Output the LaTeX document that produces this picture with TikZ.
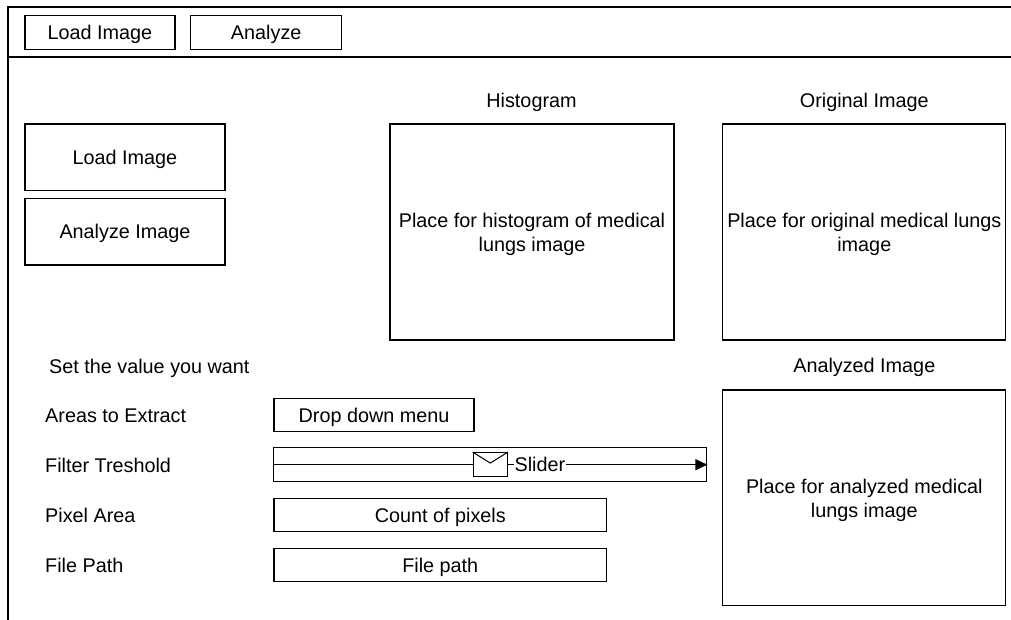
\documentclass[tikz,border=0pt]{standalone}
\usepackage{fontspec}
\setmainfont{Liberation Sans}
\usetikzlibrary{arrows.meta}
\newcommand{\uifont}{\fontsize{19.8}{23.3}\selectfont}
\tikzset{
  ui/.style={draw=black, line width=1.3pt, inner sep=0pt, font=\uifont, text height=14.2pt, text depth=0pt},
  bigbox/.style={draw=black, line width=1.3pt, inner sep=0pt},
  bigtext/.style={inner sep=0pt, font=\uifont, align=center},
  lbl/.style={inner sep=0pt, font=\uifont, text height=14.2pt, text depth=0pt},
  frameline/.style={line width=1.5pt, black},
  conn/.style={line width=1.3pt, black},
}
\begin{document}
\begin{tikzpicture}[x=1pt, y=-1pt]
\useasboundingbox (0,0) rectangle (1011,619);
% outer frame
\coordinate (ftr) at (1012,7);
\coordinate (ftl) at (8,7);
\coordinate (fbl) at (8,620);
\coordinate (sl) at (8,57);
\coordinate (sr) at (1012,57);
\draw[frameline] (ftr) -- (ftl) -- (fbl);
\draw[frameline] (sl) -- (sr);
% top bar buttons
\node[ui, minimum width=150pt, minimum height=33.6pt] (tload) at (100,32.5) {Load Image};
\node[ui, minimum width=151pt, minimum height=33.6pt] (tana) at (266.2,32.5) {Analyze};
% left buttons
\node[ui, minimum width=200pt, minimum height=66.7pt] (bload) at (125,157.3) {Load Image};
\node[ui, minimum width=200pt, minimum height=66.7pt] (bana) at (125,231.7) {Analyze Image};
% titles
\node[lbl] (thist) at (531.5,100) {Histogram};
\node[lbl] (torig) at (864.3,100) {Original Image};
\node[lbl] (tanal) at (864.3,365.5) {Analyzed Image};
% big boxes
\node[bigbox, minimum width=284pt, minimum height=216pt] (hist) at (532,232) {};
\node[bigbox, minimum width=283pt, minimum height=216pt] (orig) at (864.3,232) {};
\node[bigbox, minimum width=283pt, minimum height=215.7pt] (anal) at (864.3,497.8) {};
\node[bigtext] (histtxt) at ([yshift=-2.5pt]hist.center) {Place for histogram of medical\\lungs image};
\node[bigtext] (origtxt) at ([yshift=-2.5pt]orig.center) {Place for original medical lungs\\image};
\node[bigtext] (analtxt) at ([yshift=-2.5pt]anal.center) {Place for analyzed medical\\lungs image};
% left labels
\node[lbl, anchor=west] (lset) at (49,366) {Set the value you want};
\node[lbl, anchor=west] (lareas) at (45,415) {Areas to Extract};
\node[lbl, anchor=west] (lfilt) at (45,465) {Filter Treshold};
\node[lbl, anchor=west] (lpix) at (45,515) {Pixel Area};
\node[lbl, anchor=west] (lfile) at (45,565) {File Path};
% controls
\node[ui, minimum width=200pt, minimum height=33.4pt] (drop) at (374,415) {Drop down menu};
\node[draw=black, line width=1.3pt, inner sep=0pt, minimum width=433.4pt, minimum height=34pt] (slider) at (490,464.7) {};
\node[ui, minimum width=332.7pt, minimum height=33.4pt] (count) at (440.3,515) {Count of pixels};
\node[ui, minimum width=332.7pt, minimum height=33.4pt] (fpath) at (440.3,565) {File path};
% slider handle (envelope)
\node[draw=black, line width=1.3pt, inner sep=0pt, minimum width=34pt, minimum height=24pt] (env) at (490.3,464.7) {};
\draw[line width=1pt] (env.north west) -- ([yshift=-11pt]env.north) -- (env.north east);
\coordinate (sstart) at (slider.west);
\coordinate (send) at (slider.east);
\draw[conn] (sstart) -- (env.west);
\draw[conn, -{Triangle[length=12pt,width=11pt]}] (env.east) -- (send)
  node[pos=0.16, fill=white, inner sep=0.5pt, font=\uifont, text height=14.2pt, text depth=0pt] (slbl) {Slider};
\end{tikzpicture}
\end{document}
